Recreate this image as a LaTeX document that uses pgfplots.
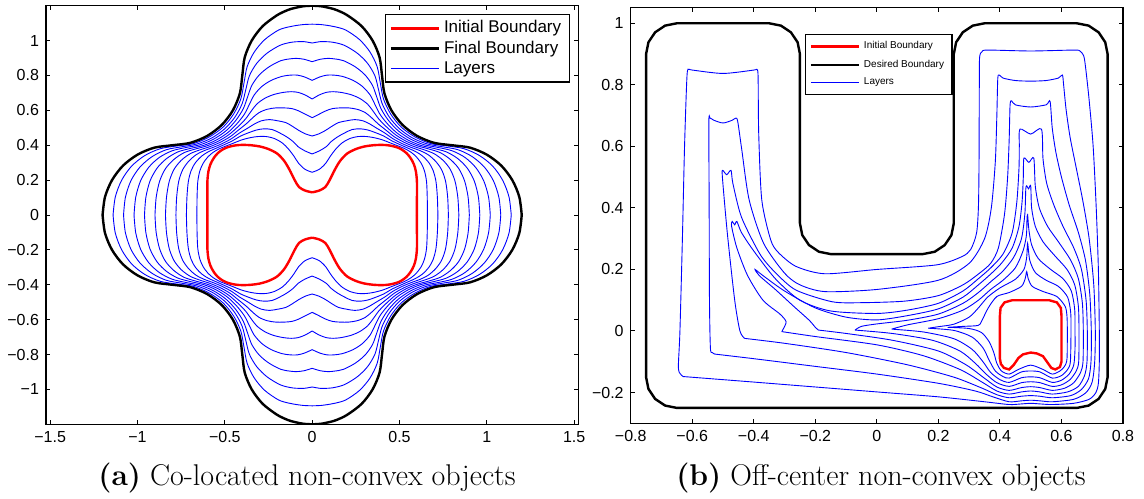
\documentclass[border=0pt]{standalone}
\usepackage{fontspec}
\usepackage{pgfplots}
\usepackage{pgfplotstable}
\pgfplotsset{compat=1.18}
\newfontfamily\arial{Liberation Sans}

% first quadrant of panel (a): red (initial), black (final), 9 layers
\pgfplotstableread{
xr yr xb yb x1 y1 x2 y2 x3 y3 x4 y4 x5 y5 x6 y6 x7 y7 x8 y8 x9 y9
0.600 0.000 1.200 0.000 0.660 0 0.720 0 0.780 0 0.840 0 0.900 0 0.960 0 1.020 0 1.080 0 1.140 0
0.600 0.100 1.186 0.104 0.659 0.100 0.717 0.101 0.776 0.101 0.834 0.102 0.893 0.102 0.952 0.102 1.010 0.103 1.069 0.103 1.127 0.104
0.600 0.190 1.146 0.200 0.655 0.191 0.709 0.192 0.764 0.193 0.818 0.194 0.873 0.195 0.928 0.196 0.982 0.197 1.037 0.198 1.091 0.199
0.594 0.250 1.083 0.283 0.643 0.253 0.692 0.257 0.741 0.260 0.790 0.263 0.839 0.267 0.887 0.270 0.936 0.273 0.985 0.276 1.034 0.280
0.582 0.292 1.000 0.346 0.624 0.297 0.666 0.303 0.707 0.308 0.749 0.314 0.791 0.319 0.833 0.324 0.875 0.330 0.916 0.335 0.958 0.341
0.563 0.327 0.904 0.386 0.597 0.333 0.631 0.339 0.665 0.345 0.699 0.351 0.734 0.357 0.768 0.362 0.802 0.368 0.836 0.374 0.870 0.380
0.540 0.355 0.800 0.400 0.566 0.360 0.592 0.364 0.618 0.369 0.644 0.373 0.670 0.378 0.696 0.382 0.722 0.387 0.748 0.391 0.774 0.396
0.510 0.377 0.697 0.414 0.529 0.381 0.547 0.384 0.566 0.388 0.585 0.392 0.604 0.396 0.622 0.399 0.641 0.403 0.660 0.407 0.678 0.410
0.480 0.390 0.600 0.454 0.492 0.396 0.504 0.403 0.516 0.409 0.528 0.416 0.540 0.422 0.552 0.428 0.564 0.435 0.576 0.441 0.588 0.448
0.440 0.399 0.517 0.517 0.448 0.413 0.455 0.426 0.463 0.437 0.471 0.448 0.479 0.459 0.486 0.470 0.494 0.482 0.502 0.493 0.509 0.505
0.400 0.402 0.454 0.600 0.405 0.430 0.411 0.452 0.416 0.470 0.422 0.487 0.427 0.504 0.432 0.522 0.438 0.541 0.443 0.560 0.449 0.580
0.350 0.400 0.414 0.697 0.356 0.443 0.363 0.472 0.369 0.498 0.376 0.524 0.382 0.550 0.388 0.578 0.395 0.608 0.401 0.638 0.408 0.667
0.300 0.393 0.400 0.800 0.310 0.450 0.320 0.487 0.330 0.522 0.340 0.558 0.350 0.594 0.360 0.633 0.370 0.676 0.380 0.719 0.390 0.759
0.250 0.378 0.386 0.904 0.264 0.450 0.277 0.494 0.291 0.540 0.304 0.587 0.318 0.635 0.332 0.688 0.345 0.744 0.359 0.799 0.372 0.851
0.200 0.352 0.346 1.000 0.215 0.438 0.229 0.490 0.244 0.547 0.258 0.606 0.273 0.668 0.288 0.737 0.302 0.804 0.317 0.870 0.331 0.935
0.160 0.310 0.283 1.083 0.172 0.414 0.185 0.470 0.197 0.540 0.209 0.614 0.222 0.690 0.234 0.772 0.246 0.850 0.258 0.928 0.271 1.006
0.130 0.260 0.200 1.146 0.137 0.380 0.144 0.447 0.151 0.530 0.158 0.614 0.165 0.703 0.172 0.795 0.179 0.885 0.186 0.972 0.193 1.060
0.100 0.200 0.140 1.175 0.104 0.337 0.108 0.420 0.112 0.508 0.116 0.610 0.120 0.707 0.124 0.802 0.128 0.895 0.132 0.988 0.136 1.078
0.075 0.160 0.104 1.186 0.078 0.297 0.081 0.392 0.075 0.484 0.080 0.598 0.080 0.703 0.085 0.802 0.090 0.898 0.095 0.993 0.101 1.085
0.040 0.140 0.050 1.197 0.041 0.262 0.042 0.368 0.038 0.465 0.040 0.578 0.040 0.688 0.045 0.792 0.047 0.893 0.048 0.994 0.049 1.092
0.000 0.130 0.000 1.200 0 0.245 0 0.350 0 0.453 0 0.558 0 0.665 0 0.772 0 0.879 0 0.986 0 1.094
}\quadA

\pgfplotsset{
  matlab/.style={
    scale only axis,
    axis line style={line width=0.7pt},
    tick align=inside,
    major tick length=2.2pt,
    tick style={black, line width=0.5pt},
    ticklabel style={font=\arial\fontsize{8}{9}\selectfont, text=black},
    legend cell align=left,
    legend image code/.code={\draw[##1] (0pt,0pt) -- (24pt,0pt);},
  },
  lay/.style={blue, line width=0.45pt, smooth, forget plot},
  layb/.style={blue, line width=0.45pt, smooth, tension=0.45, forget plot},
}

\begin{document}
\begin{tikzpicture}
\useasboundingbox (0,0) rectangle (572pt,249pt);

% ---------------- panel (a) ----------------
\begin{axis}[matlab, at={(23pt,36.85pt)}, anchor=south west,
  width=266.15pt, height=209.3pt,
  xmin=-1.524, xmax=1.524, ymin=-1.2, ymax=1.2,
  xtick={-1.5,-1,-0.5,0,0.5,1,1.5},
  xticklabels={−1.5,−1,−0.5,0,0.5,1,1.5},
  ytick={-1,-0.8,-0.6,-0.4,-0.2,0,0.2,0.4,0.6,0.8,1},
  yticklabels={−1,−0.8,−0.6,−0.4,−0.2,0,0.2,0.4,0.6,0.8,1},
  legend style={at={(0.984,0.98)}, anchor=north east, draw=black, line width=0.6pt,
    fill=white, font=\arial\fontsize{8.5}{10}\selectfont, inner xsep=2pt, inner ysep=1pt, row sep=-1.5pt},
]
\pgfplotsinvokeforeach{1,...,9}{
  \addplot[lay] table[x=x#1, y=y#1]{\quadA};
  \addplot[lay] table[x expr=-\thisrow{x#1}, y=y#1]{\quadA};
  \addplot[lay] table[x=x#1, y expr=-\thisrow{y#1}]{\quadA};
  \addplot[lay] table[x expr=-\thisrow{x#1}, y expr=-\thisrow{y#1}]{\quadA};
}
\addplot[black, line width=1.2pt, smooth, forget plot] table[x=xb, y=yb]{\quadA};
\addplot[black, line width=1.2pt, smooth, forget plot] table[x expr=-\thisrow{xb}, y=yb]{\quadA};
\addplot[black, line width=1.2pt, smooth, forget plot] table[x=xb, y expr=-\thisrow{yb}]{\quadA};
\addplot[black, line width=1.2pt, smooth, forget plot] table[x expr=-\thisrow{xb}, y expr=-\thisrow{yb}]{\quadA};
\addplot[red, line width=1.2pt, smooth, forget plot] table[x=xr, y=yr]{\quadA};
\addplot[red, line width=1.2pt, smooth, forget plot] table[x expr=-\thisrow{xr}, y=yr]{\quadA};
\addplot[red, line width=1.2pt, smooth, forget plot] table[x=xr, y expr=-\thisrow{yr}]{\quadA};
\addplot[red, line width=1.2pt, smooth, forget plot] table[x expr=-\thisrow{xr}, y expr=-\thisrow{yr}]{\quadA};
\addlegendimage{red, line width=1.2pt}\addlegendentry{Initial Boundary}
\addlegendimage{black, line width=1.2pt}\addlegendentry{Final Boundary}
\addlegendimage{blue, line width=0.5pt}\addlegendentry{Layers}
\end{axis}

% ---------------- panel (b) ----------------
\begin{axis}[matlab, at={(315.35pt,37.35pt)}, anchor=south west,
  width=246.15pt, height=208pt,
  xmin=-0.8, xmax=0.8, ymin=-0.3, ymax=1.052,
  xtick={-0.8,-0.6,-0.4,-0.2,0,0.2,0.4,0.6,0.8},
  xticklabels={−0.8,−0.6,−0.4,−0.2,0,0.2,0.4,0.6,0.8},
  ytick={-0.2,0,0.2,0.4,0.6,0.8,1},
  yticklabels={−0.2,0,0.2,0.4,0.6,0.8,1},
  legend style={at={(0.354,0.936)}, anchor=north west, draw=black, line width=0.6pt,
    fill=white, font=\arial\fontsize{5}{6}\selectfont, inner xsep=2pt, inner ysep=1.5pt, row sep=0pt},
]
% layer 1
\addplot[layb] coordinates {(0.23,0.012) (0.3,0.008) (0.34,-0.005) (0.365,-0.035) (0.38,-0.07) (0.39,-0.105) (0.405,-0.13) (0.43,-0.14) (0.46,-0.125) (0.5,-0.111) (0.54,-0.125) (0.57,-0.14) (0.595,-0.13) (0.61,-0.115) (0.618,-0.09) (0.619,0.0) (0.618,0.047) (0.612,0.08) (0.585,0.112) (0.541,0.128) (0.505,0.145) (0.492,0.17) (0.487,0.193) (0.482,0.17) (0.47,0.145) (0.43,0.125) (0.39,0.112) (0.362,0.075) (0.34,0.031) (0.329,0.018) (0.28,0.015) (0.23,0.012)};
% layer 2
\addplot[layb] coordinates {(0.167,0.009) (0.25,0.002) (0.31,-0.02) (0.345,-0.055) (0.365,-0.095) (0.385,-0.13) (0.41,-0.148) (0.43,-0.153) (0.47,-0.133) (0.5,-0.13) (0.53,-0.133) (0.57,-0.153) (0.6,-0.145) (0.62,-0.125) (0.629,-0.1) (0.631,0.0) (0.630,0.06) (0.62,0.11) (0.59,0.145) (0.55,0.165) (0.515,0.19) (0.497,0.23) (0.49,0.285) (0.487,0.24) (0.478,0.2) (0.45,0.168) (0.4,0.14) (0.36,0.11) (0.33,0.075) (0.3,0.045) (0.25,0.022) (0.2,0.014) (0.167,0.009)};
% layer 3
\addplot[layb] coordinates {(0.048,0.006) (0.15,-0.003) (0.25,-0.025) (0.31,-0.06) (0.345,-0.1) (0.37,-0.135) (0.4,-0.158) (0.43,-0.167) (0.47,-0.152) (0.5,-0.149) (0.53,-0.152) (0.57,-0.167) (0.6,-0.16) (0.625,-0.14) (0.64,-0.11) (0.644,-0.06) (0.644,0.0) (0.643,0.07) (0.632,0.13) (0.605,0.17) (0.565,0.2) (0.525,0.235) (0.503,0.28) (0.494,0.33) (0.49,0.378) (0.488,0.365) (0.486,0.31) (0.475,0.26) (0.45,0.205) (0.41,0.165) (0.37,0.135) (0.33,0.1) (0.28,0.068) (0.2,0.04) (0.1,0.02) (0.048,0.006)};
% layer 4
\addplot[layb] coordinates {(-0.071,0.003) (0.05,-0.008) (0.18,-0.03) (0.27,-0.065) (0.32,-0.105) (0.355,-0.14) (0.39,-0.168) (0.43,-0.18) (0.47,-0.168) (0.5,-0.165) (0.53,-0.168) (0.57,-0.18) (0.6,-0.175) (0.628,-0.158) (0.648,-0.13) (0.656,-0.1) (0.657,0.0) (0.655,0.08) (0.643,0.15) (0.618,0.2) (0.578,0.245) (0.54,0.29) (0.515,0.34) (0.503,0.4) (0.5,0.472) (0.493,0.462) (0.487,0.472) (0.484,0.46) (0.481,0.38) (0.47,0.3) (0.445,0.24) (0.41,0.195) (0.37,0.16) (0.33,0.125) (0.28,0.09) (0.2,0.055) (0.1,0.035) (0.0,0.023) (-0.05,0.015) (-0.071,0.003)};
% layer 5
\addplot[layb] coordinates {(-0.19,0.003) (-0.1,-0.008) (0.05,-0.03) (0.2,-0.065) (0.29,-0.11) (0.345,-0.15) (0.39,-0.182) (0.43,-0.193) (0.47,-0.184) (0.5,-0.181) (0.53,-0.184) (0.57,-0.193) (0.61,-0.186) (0.64,-0.168) (0.662,-0.135) (0.67,-0.1) (0.671,0.0) (0.668,0.09) (0.655,0.17) (0.63,0.23) (0.59,0.29) (0.555,0.34) (0.528,0.4) (0.515,0.47) (0.51,0.562) (0.494,0.548) (0.478,0.562) (0.476,0.5) (0.472,0.42) (0.462,0.34) (0.44,0.27) (0.405,0.22) (0.37,0.185) (0.33,0.15) (0.28,0.11) (0.2,0.072) (0.1,0.05) (0.0,0.036) (-0.1,0.045) (-0.2,0.075) (-0.3,0.13) (-0.37,0.18) (-0.396,0.2) (-0.38,0.178) (-0.33,0.135) (-0.27,0.08) (-0.22,0.035) (-0.2,0.012) (-0.19,0.003)};
% layer 6
\addplot[layb] coordinates {(-0.309,-0.002) (-0.2,-0.018) (0.0,-0.045) (0.15,-0.08) (0.27,-0.125) (0.34,-0.165) (0.39,-0.195) (0.43,-0.205) (0.47,-0.198) (0.5,-0.195) (0.53,-0.198) (0.57,-0.205) (0.62,-0.198) (0.655,-0.18) (0.675,-0.145) (0.683,-0.1) (0.684,0.0) (0.68,0.1) (0.665,0.2) (0.64,0.27) (0.605,0.34) (0.575,0.41) (0.552,0.48) (0.54,0.56) (0.535,0.656) (0.5,0.64) (0.465,0.656) (0.463,0.6) (0.462,0.53) (0.455,0.42) (0.44,0.32) (0.41,0.25) (0.37,0.205) (0.33,0.17) (0.28,0.13) (0.2,0.09) (0.1,0.068) (0.0,0.057) (-0.15,0.065) (-0.25,0.1) (-0.33,0.17) (-0.4,0.26) (-0.44,0.32) (-0.455,0.356) (-0.462,0.345) (-0.47,0.356) (-0.472,0.34) (-0.455,0.27) (-0.42,0.18) (-0.37,0.1) (-0.315,0.055) (-0.295,0.03) (-0.305,0.005) (-0.309,-0.002)};
% layer 7
\addplot[layb] coordinates {(-0.43,-0.024) (-0.3,-0.04) (-0.1,-0.07) (0.1,-0.11) (0.25,-0.15) (0.34,-0.185) (0.39,-0.207) (0.43,-0.217) (0.47,-0.212) (0.5,-0.21) (0.53,-0.212) (0.57,-0.217) (0.63,-0.21) (0.665,-0.19) (0.688,-0.155) (0.696,-0.1) (0.697,0.0) (0.692,0.12) (0.678,0.23) (0.655,0.32) (0.625,0.41) (0.6,0.5) (0.582,0.58) (0.57,0.66) (0.563,0.746) (0.55,0.735) (0.5,0.728) (0.45,0.735) (0.438,0.748) (0.433,0.735) (0.43,0.62) (0.425,0.5) (0.415,0.38) (0.395,0.27) (0.37,0.22) (0.33,0.185) (0.28,0.15) (0.2,0.115) (0.09,0.097) (-0.05,0.092) (-0.145,0.095) (-0.263,0.133) (-0.33,0.19) (-0.38,0.25) (-0.44,0.37) (-0.468,0.48) (-0.474,0.522) (-0.488,0.508) (-0.501,0.522) (-0.502,0.5) (-0.486,0.318) (-0.462,0.1) (-0.445,0.0) (-0.43,-0.024)};
% layer 8
\addplot[layb] coordinates {(-0.527,-0.075) (-0.4,-0.09) (-0.2,-0.115) (0.0,-0.14) (0.2,-0.17) (0.32,-0.195) (0.38,-0.215) (0.43,-0.23) (0.47,-0.227) (0.5,-0.225) (0.53,-0.227) (0.57,-0.23) (0.64,-0.222) (0.68,-0.2) (0.7,-0.165) (0.708,-0.1) (0.71,0.0) (0.705,0.15) (0.69,0.3) (0.67,0.42) (0.648,0.53) (0.628,0.63) (0.615,0.72) (0.607,0.8) (0.603,0.832) (0.59,0.822) (0.55,0.814) (0.5,0.812) (0.45,0.814) (0.41,0.822) (0.398,0.832) (0.393,0.82) (0.39,0.7) (0.385,0.55) (0.372,0.4) (0.35,0.3) (0.3,0.22) (0.2,0.165) (0.0,0.135) (-0.169,0.128) (-0.25,0.15) (-0.3,0.188) (-0.368,0.285) (-0.415,0.426) (-0.439,0.589) (-0.452,0.68) (-0.458,0.692) (-0.47,0.685) (-0.5,0.676) (-0.53,0.685) (-0.542,0.692) (-0.546,0.68) (-0.545,0.4) (-0.544,0.1) (-0.541,-0.055) (-0.535,-0.07) (-0.527,-0.075)};
% layer 9
\addplot[layb] coordinates {(-0.63,-0.148) (-0.4,-0.166) (-0.2,-0.182) (0.0,-0.198) (0.2,-0.214) (0.35,-0.23) (0.43,-0.239) (0.47,-0.237) (0.5,-0.235) (0.53,-0.237) (0.57,-0.239) (0.64,-0.235) (0.69,-0.222) (0.712,-0.2) (0.72,-0.17) (0.723,-0.1) (0.723,0.0) (0.72,0.2) (0.713,0.4) (0.703,0.6) (0.69,0.75) (0.678,0.86) (0.672,0.895) (0.66,0.91) (0.64,0.913) (0.5,0.91) (0.36,0.913) (0.342,0.908) (0.334,0.89) (0.333,0.8) (0.332,0.535) (0.33,0.4) (0.324,0.318) (0.305,0.265) (0.277,0.242) (0.195,0.215) (0.0,0.2) (-0.169,0.186) (-0.263,0.21) (-0.32,0.255) (-0.345,0.296) (-0.374,0.426) (-0.384,0.643) (-0.386,0.828) (-0.39,0.85) (-0.4,0.848) (-0.5,0.837) (-0.6,0.848) (-0.61,0.85) (-0.617,0.83) (-0.625,0.6) (-0.632,0.3) (-0.64,0.0) (-0.645,-0.11) (-0.642,-0.135) (-0.63,-0.148)};
% desired boundary
\addplot[black, line width=1.2pt, forget plot] coordinates {(-0.75,0.9) (-0.7424,0.9383) (-0.7207,0.9707) (-0.6883,0.9924) (-0.65,1.0) (-0.35,1.0) (-0.3117,0.9924) (-0.2793,0.9707) (-0.2576,0.9383) (-0.25,0.9) (-0.25,0.35) (-0.2424,0.3117) (-0.2207,0.2793) (-0.1883,0.2576) (-0.15,0.25) (0.15,0.25) (0.1883,0.2576) (0.2207,0.2793) (0.2424,0.3117) (0.25,0.35) (0.25,0.9) (0.2576,0.9383) (0.2793,0.9707) (0.3117,0.9924) (0.35,1.0) (0.65,1.0) (0.6883,0.9924) (0.7207,0.9707) (0.7424,0.9383) (0.75,0.9) (0.75,-0.15) (0.7424,-0.1883) (0.7207,-0.2207) (0.6883,-0.2424) (0.65,-0.25) (-0.65,-0.25) (-0.6883,-0.2424) (-0.7207,-0.2207) (-0.7424,-0.1883) (-0.75,-0.15) (-0.75,0.9)};
% initial boundary
\addplot[red, line width=1.2pt, forget plot] coordinates {(0.44,0.1) (0.56,0.1) (0.585,0.093) (0.598,0.075) (0.6,0.05) (0.6,-0.1) (0.595,-0.117) (0.58,-0.125) (0.567,-0.12) (0.555,-0.103) (0.54,-0.082) (0.52,-0.073) (0.5,-0.07) (0.475,-0.076) (0.46,-0.088) (0.445,-0.11) (0.43,-0.125) (0.413,-0.12) (0.403,-0.107) (0.4,-0.09) (0.4,0.05) (0.402,0.075) (0.415,0.093) (0.44,0.1)};
\addlegendimage{red, line width=1.2pt}\addlegendentry{Initial Boundary}
\addlegendimage{black, line width=1.2pt}\addlegendentry{Desired Boundary}
\addlegendimage{blue, line width=0.5pt}\addlegendentry{Layers}
\end{axis}

\node[font=\fontsize{15}{18}\selectfont] at (153.5pt,10pt) {\textbf{(a)} Co-located non-convex objects};
\node[font=\fontsize{15}{18}\selectfont] at (440.5pt,10pt) {\textbf{(b)} Off-center non-convex objects};
\end{tikzpicture}
\end{document}
